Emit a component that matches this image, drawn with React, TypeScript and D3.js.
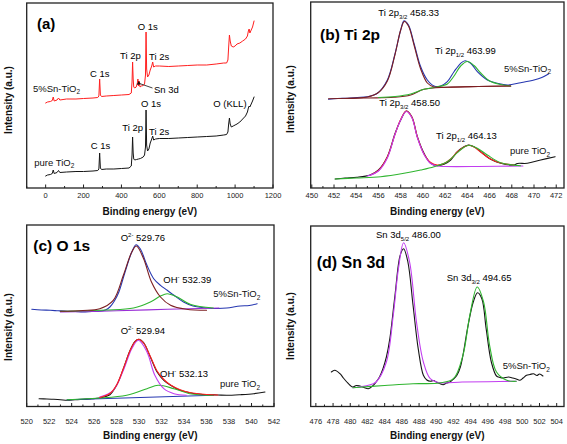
import React from 'react';
import * as d3 from 'd3';

type Pt = [number, number];

// ---------- Panel (a): survey spectra (binding energy eV, intensity a.u.) ----------
const surveySnTiO2: Pt[] = [[0,84],[10,85],[25,85.5],[35,86.5],[40,90],[45,86],[60,87],[68,89],[75,87],[110,88],[160,88],[200,88.5],[250,89],[275,89.5],[281,91],[285,108],[289,92],[295,90.5],[320,91],[360,91.5],[400,92],[440,92.5],[452,94],[456,105],[459,125],[462,108],[465,100],[470,99],[478,100],[484,104],[487,108],[490,101],[494,106],[498,100],[505,101],[515,101.5],[522,103],[527,112],[530,155],[533,118],[538,110],[545,112],[552,117],[560,121],[565,125],[570,120],[580,121],[600,121],[650,120.5],[700,121],[750,121.5],[800,122],[850,122],[900,123],[940,124],[955,124],[962,127],[966,140],[970,152],[974,146],[980,141],[990,140],[1000,141],[1010,143],[1025,144],[1040,146],[1055,148],[1065,151],[1070,156],[1074,158],[1078,154],[1085,157],[1092,160],[1100,166]];
const surveyPureTiO2: Pt[] = [[0,11],[10,12],[25,12.5],[35,13.5],[40,17],[45,13.5],[60,14.5],[68,16.5],[75,14.5],[110,15],[160,15.5],[200,15.5],[250,16],[275,16.5],[281,18],[285,34],[289,19],[295,17.5],[320,18],[360,18],[400,18.5],[440,19],[452,21],[456,32],[459,50],[462,34],[465,28],[470,27],[480,27.5],[490,28],[500,28.5],[515,30],[522,32],[527,40],[530,77],[533,42],[538,36],[545,38],[552,44],[560,48],[565,51],[570,47],[580,48],[600,48.5],[650,48.5],[700,49],[750,49.5],[800,50],[850,50.5],[900,51],[940,52],[955,52.5],[962,55],[966,63],[970,69],[974,63],[980,60],[990,61],[1000,62],[1010,63],[1025,65],[1040,68],[1055,71],[1065,75],[1070,79],[1074,81],[1078,80],[1085,83],[1092,86],[1100,90]];

// ---------- Panel (b): Ti 2p ----------
const ti2pSnData: Pt[] = [[451.5,87.7],[452.3,88.5],[453.2,88.7],[454.1,89.5],[455.0,90.3],[455.9,93.7],[456.8,107],[457.5,133.7],[458.0,157],[458.3,166.3],[458.7,162],[459.2,143.7],[459.8,120.3],[460.4,107],[461.0,101],[461.6,101],[462.2,105.3],[462.8,115.3],[463.4,123.7],[463.8,126.3],[464.3,123.7],[464.9,115.3],[465.8,107],[466.7,103.7],[467.6,102],[468.8,104.3],[470.0,107],[470.7,109.5],[471.3,113]];
const ti2pSnBackground: Pt[] = [[451.5,88.3],[455,89],[457.4,89.7],[458.9,92],[460.1,97.7],[462.2,99.7],[465,100.5],[467.9,101]];
const ti2pSnPeak32: Pt[] = [[453,88.5],[455,90],[456,94.5],[456.8,106],[457.5,133],[458,157],[458.33,165.5],[458.7,161],[459.2,142],[459.8,118],[460.4,104],[461,100],[462,99.8],[465,100.5],[467.9,101]];
const ti2pSnPeak12: Pt[] = [[456,89.5],[457.5,90.5],[458.9,93],[460.1,97.7],[461.2,100],[462.2,103],[462.8,111],[463.4,121],[463.99,125.5],[464.6,121.5],[465.2,114],[466,106],[467,102.5],[467.9,101]];
const ti2pPureData: Pt[] = [[452.1,8],[453,9],[454.05,9.7],[455.25,12],[456,17],[456.8,30.3],[457.5,53.7],[458,67],[458.5,76],[459,70.3],[459.5,50.3],[460.1,33.7],[460.7,23.7],[461.3,21.3],[461.9,22.7],[462.5,27],[463.1,35.3],[463.7,40.3],[464.1,42],[464.6,40.3],[465.2,35.3],[466.1,27.7],[467,23.7],[468.2,22],[468.5,23.5],[469.4,23.7],[470.6,27],[471.9,30.3]];
const ti2pPureEnvelope: Pt[] = [[455.3,12],[456,16.5],[456.8,30],[457.5,53],[458,67.5],[458.5,76],[459,70],[459.5,50],[460.1,33],[460.7,24.5],[461.3,22],[461.9,23.5],[462.5,28],[463.1,35],[463.7,40],[464.13,41.7],[464.6,40],[465.2,35],[466,28.5],[467,24],[468.2,22]];
const ti2pPurePeak32: Pt[] = [[455,11],[456,16],[456.8,29],[457.5,53],[458,67],[458.5,75.5],[459,69.5],[459.5,49.5],[460.1,32.5],[460.7,23.5],[461.3,21],[462,20.5],[465,20.5],[469,21]];
const ti2pPurePeak12: Pt[] = [[452.1,8],[454,9],[456.2,10.3],[458.3,13.7],[459.8,17],[461,20.3],[462.2,25.3],[463.1,34.3],[463.7,39.7],[464.13,41.7],[464.9,38.7],[465.8,32],[467,24.3],[468.8,21.3]];

// ---------- Panel (c): O 1s ----------
const o1sSnData: Pt[] = [[520.45,97.7],[521.3,97],[522.1,96.7],[522.8,96.2],[523.6,95.7],[524.3,95.5],[525,95],[525.8,95.5],[526.5,95.7],[527,97],[527.4,100],[527.8,106],[528.2,115],[528.75,135],[529.35,155],[529.73,162.3],[530.1,158.3],[530.7,141.7],[531.3,128.3],[531.9,121.7],[532.5,116.7],[533.1,111.7],[533.95,105],[534.8,101],[536,99],[537,98.5],[537.8,99],[539,101],[539.8,101.5],[540.5,103.3]];
const o1sSnO2: Pt[] = [[523,95.7],[525,96.5],[526.5,98.3],[527.7,106.7],[528.6,131.7],[529.35,155],[529.76,161],[530.4,148.3],[531.1,125],[531.9,110],[532.8,101.7],[534.2,97.7],[536,96.7]];
const o1sSnOH: Pt[] = [[523,95.7],[527,97],[529.5,99],[531,105],[531.9,111],[532.5,113.3],[533.4,110],[534.6,102.5],[536.6,99]];
const o1sSnBase: Pt[] = [[523,95],[528,96.2],[532.5,97.7],[537.1,99]];
const o1sPureData: Pt[] = [[521.1,8.3],[521.8,8],[522.4,7.7],[523,7.3],[523.6,6.7],[524.3,7.2],[525,7.7],[525.8,8.2],[526.5,9],[527,10.5],[527.4,12.3],[528,21.7],[528.6,38.3],[529.2,56.7],[529.64,65.7],[530,67.7],[530.4,64.3],[531,50],[531.6,35],[532.2,26.7],[532.8,21.7],[533.65,16.7],[534.5,14.3],[535.3,13],[536,12.3],[537,12],[537.8,11.7],[539,12.3],[540.2,13.3],[541.2,15]];
const o1sPureEnvelope: Pt[] = [[526.5,9.5],[527.4,13.5],[528,22],[528.6,38.5],[529.2,56.5],[529.64,65.5],[529.94,67.7],[530.4,64],[531,50.5],[531.6,36],[532.2,27.5],[532.8,22],[533.6,17.5],[534.5,14.5],[536,12.5],[537,12]];
const o1sPureO2: Pt[] = [[526.5,10],[527.7,16.7],[528.6,36.7],[529.35,58.3],[529.94,66.7],[530.7,55],[531.4,31.7],[532.2,18.3],[533.1,13.3],[534.2,11.7]];
const o1sPureOH: Pt[] = [[523.6,7.3],[528.9,11.7],[530.7,18.3],[531.7,21.7],[533.1,18.3],[534.5,13.3],[536.6,11.7]];
const o1sPureBase: Pt[] = [[523.6,7.3],[536.6,11.7]];

// ---------- Panel (d): Sn 3d ----------
const sn3dData: Pt[] = [[477.8,35],[478.2,36.7],[478.8,33.3],[479.2,29],[479.6,25],[480,21.5],[480.3,20],[480.7,21.5],[481.1,21],[481.6,19.5],[482.1,18.3],[482.6,21],[483,25],[483.4,30],[483.8,38.3],[484.2,50],[484.6,68.3],[485.2,111.7],[485.8,151.7],[486.2,158.3],[486.7,145],[487.3,101.7],[487.9,58.3],[488.5,31.7],[488.9,27],[489.3,25.7],[489.7,26.5],[490,25],[490.4,23.5],[490.8,22.3],[491.2,24],[491.6,25],[492,28],[492.4,31.7],[492.8,40],[493.1,51.7],[493.7,81.7],[494.3,105],[494.8,114.3],[495.3,108.3],[495.8,78.3],[496.4,45],[497,31],[497.4,29.5],[497.8,29],[498.4,30],[498.9,29],[499.3,28],[499.7,26.7],[500.1,29],[500.5,31.7],[500.9,32.5],[501.3,33.3],[501.7,31.5],[502,33],[502.4,31]];
const sn3dFit52: Pt[] = [[480.3,19.3],[482,21.5],[483,25],[484.2,45],[485,91.7],[485.6,138.3],[486.2,164.3],[486.9,145],[487.7,85],[488.5,45],[489.3,28.3],[490.4,24.3],[493,25],[496,25.3],[499.3,25.7]];
const sn3dFit32: Pt[] = [[480.3,19.3],[484,21.5],[487.3,23.3],[490.4,24],[492,28.3],[493.1,51.7],[493.9,91.7],[494.76,120],[495.5,105],[496.2,61.7],[497,35],[498.2,26.7],[499.3,25.7]];

// ---------- tick labels ----------
const ticksA = [0, 200, 400, 600, 800, 1000, 1200];
const ticksB = [450, 452, 454, 456, 458, 460, 462, 464, 466, 468, 470, 472];
const ticksC = [520, 522, 524, 526, 528, 530, 532, 534, 536, 538, 540, 542];
const ticksD = [476, 478, 480, 482, 484, 486, 488, 490, 492, 494, 496, 498, 500, 502, 504];

const FONT = "'Liberation Sans', Arial, Helvetica, sans-serif";
const C_BLUE = '#2536b0';
const C_DRED = '#7d1f22';
const C_GREEN = '#2fb52f';
const C_MAG = '#c23ef0';
const C_RED = '#ff1f1f';
const C_BLACK = '#151515';

type Layer = { data: Pt[]; color: string; width?: number; linear?: boolean };
type Box = { l: number; r: number; t: number; b: number; b0: number };

function Panel(props: {
  box: Box; xDomain: [number, number]; majors: number[]; minorStep: number;
  layers: Layer[]; labelY: number; titleY: number; yTitleX: number; yTitleY: number;
  children?: React.ReactNode;
}) {
  const { box, xDomain, majors, minorStep, layers, labelY, titleY, yTitleX, yTitleY } = props;
  const x = d3.scaleLinear().domain(xDomain).range([box.l, box.r]);
  const y = d3.scaleLinear().domain([0, box.b0 - box.t]).range([box.b0, box.t]);
  const minors = d3.range(Math.ceil(xDomain[0] / minorStep) * minorStep, xDomain[1] + 1e-9, minorStep)
    .filter((v) => !majors.some((m) => Math.abs(m - v) < 1e-6));
  return (
    <g>
      {layers.map((ly, i) => {
        const line = d3.line<Pt>().x((d) => x(d[0])).y((d) => y(d[1]))
          .curve(ly.linear ? d3.curveLinear : d3.curveCatmullRom.alpha(0.5));
        return <path key={i} d={line(ly.data) || ''} fill="none" stroke={ly.color}
          strokeWidth={ly.width ?? 1.1} strokeLinejoin="round" strokeLinecap="round" />;
      })}
      <rect x={box.l} y={box.t} width={box.r - box.l} height={box.b - box.t}
        fill="none" stroke="#222" strokeWidth={1.3} />
      {majors.map((m) => (
        <line key={'M' + m} x1={x(m)} x2={x(m)} y1={box.b} y2={box.b - 3.5} stroke="#222" strokeWidth={1} />
      ))}
      {minors.map((m) => (
        <line key={'m' + m} x1={x(m)} x2={x(m)} y1={box.b} y2={box.b - 2} stroke="#222" strokeWidth={1} />
      ))}
      {majors.map((m) => (
        <text key={'t' + m} x={x(m)} y={labelY} textAnchor="middle" fontSize={7.5} fill="#222">{m}</text>
      ))}
      <text x={(box.l + box.r) / 2} y={titleY} textAnchor="middle" fontSize={10} fontWeight="bold" fill="#111">
        Binding energy (eV)
      </text>
      <text transform={`translate(${yTitleX},${yTitleY}) rotate(-90)`} textAnchor="middle"
        dominantBaseline="central" fontSize={10} fontWeight="bold" fill="#111">
        Intensity (a.u.)
      </text>
      {props.children}
    </g>
  );
}

const LF = 9.5; // label font size
function Sub({ children }: { children: React.ReactNode }) {
  return <tspan fontSize={6} dy={2.5}>{children}</tspan>;
}

export default function App() {
  const sample = (label: string, x: number, y: number, fill = '#111') => (
    <text x={x} y={y} fontSize={LF} fill={fill}>
      {label}<tspan fontSize={6.5} dy={2.5}>2</tspan>
    </text>
  );
  return (
    <svg width={567} height={444} style={{ position: 'absolute', left: 0, top: 0, background: '#fff' }}
      fontFamily={FONT}>
      <defs>
        <marker id="arr" viewBox="0 0 10 10" refX="1" refY="5" markerWidth="5" markerHeight="5" orient="auto-start-reverse">
          <path d="M10,0 L0,5 L10,10 z" fill="#111" />
        </marker>
      </defs>
      {/* (a) */}
      <Panel box={{ l: 26.7, r: 273, t: 3, b: 188, b0: 187 }} xDomain={[-100, 1200]} majors={ticksA} minorStep={100}
        layers={[
          { data: surveySnTiO2, color: C_RED, width: 1, linear: true },
          { data: surveyPureTiO2, color: C_BLACK, width: 1, linear: true },
        ]}
        labelY={198} titleY={214.5} yTitleX={8.5} yTitleY={100}>
        <text x={37} y={29} fontSize={15} fontWeight="bold">(a)</text>
        <text x={137.7} y={30} fontSize={LF}>O 1s</text>
        <text x={120} y={59} fontSize={LF}>Ti 2p</text>
        <text x={149} y={60} fontSize={LF}>Ti 2s</text>
        <text x={90} y={77} fontSize={LF}>C 1s</text>
        {sample('5%Sn-TiO', 33, 91.5)}
        <text x={154} y={92.5} fontSize={LF}>Sn 3d</text>
        <line x1={152.5} y1={88} x2={141} y2={84} stroke="#111" strokeWidth={0.8} markerEnd="url(#arr)" />
        <text x={141} y={106.5} fontSize={LF}>O 1s</text>
        <text x={213.3} y={107.3} fontSize={LF}>O (KLL)</text>
        <text x={122.3} y={131} fontSize={LF}>Ti 2p</text>
        <text x={149} y={135} fontSize={LF}>Ti 2s</text>
        <text x={90.7} y={149.3} fontSize={LF}>C 1s</text>
        {sample('pure TiO', 34.3, 165.5)}
      </Panel>

      {/* (b) */}
      <Panel box={{ l: 310.7, r: 564, t: 2, b: 188, b0: 187 }} xDomain={[449.9, 472.7]} majors={ticksB} minorStep={1}
        layers={[
          { data: ti2pSnData, color: C_BLUE },
          { data: ti2pSnBackground, color: C_DRED },
          { data: ti2pSnPeak12, color: C_GREEN },
          { data: ti2pSnPeak32, color: C_DRED },
          { data: ti2pPureData, color: C_BLACK },
          { data: ti2pPureEnvelope, color: C_RED },
          { data: ti2pPurePeak32, color: C_MAG },
          { data: ti2pPurePeak12, color: C_GREEN },
        ]}
        labelY={198} titleY={214.5} yTitleX={290} yTitleY={99}>
        <text x={320} y={40} fontSize={15.5} fontWeight="bold">(b) Ti 2p</text>
        <text x={378.3} y={16} fontSize={LF}>Ti 2p<Sub>3/2</Sub><tspan dy={-2.5}> 458.33</tspan></text>
        <text x={435} y={54} fontSize={LF}>Ti 2p<Sub>1/2</Sub><tspan dy={-2.5}> 463.99</tspan></text>
        {sample('5%Sn-TiO', 504, 71.7)}
        <text x={379.3} y={106} fontSize={LF}>Ti 2p<Sub>3/2</Sub><tspan dy={-2.5}> 458.50</tspan></text>
        <text x={436} y={139.3} fontSize={LF}>Ti 2p<Sub>1/2</Sub><tspan dy={-2.5}> 464.13</tspan></text>
        {sample('pure TiO', 510, 154.3)}
      </Panel>

      {/* (c) */}
      <Panel box={{ l: 26.7, r: 274, t: 225, b: 406.5, b0: 407 }} xDomain={[520, 542]} majors={ticksC} minorStep={1}
        layers={[
          { data: o1sSnData, color: C_BLUE },
          { data: o1sSnBase, color: '#9a2fd6' },
          { data: o1sSnOH, color: C_GREEN },
          { data: o1sSnO2, color: C_DRED },
          { data: o1sPureData, color: C_BLACK },
          { data: o1sPureBase, color: C_BLUE },
          { data: o1sPureOH, color: C_GREEN },
          { data: o1sPureO2, color: C_MAG },
          { data: o1sPureEnvelope, color: C_RED },
        ]}
        labelY={423.5} titleY={438.5} yTitleX={8.5} yTitleY={327}>
        <text x={33.3} y={251.3} fontSize={15.5} fontWeight="bold">(c) O 1s</text>
        <text x={120.7} y={241} fontSize={LF}>O<tspan fontSize={6} dy={-4}>2-</tspan><tspan dy={4}> 529.76</tspan></text>
        <text x={163.3} y={282.7} fontSize={LF}>OH<tspan fontSize={6} dy={-4}>-</tspan><tspan dy={4}> 532.39</tspan></text>
        {sample('5%Sn-TiO', 213.3, 297)}
        <text x={120.7} y={333.7} fontSize={LF}>O<tspan fontSize={6} dy={-4}>2-</tspan><tspan dy={4}> 529.94</tspan></text>
        <text x={160} y={377.3} fontSize={LF}>OH<tspan fontSize={6} dy={-4}>-</tspan><tspan dy={4}> 532.13</tspan></text>
        {sample('pure TiO', 220, 387)}
      </Panel>

      {/* (d) */}
      <Panel box={{ l: 310.7, r: 564, t: 226, b: 406.5, b0: 407 }} xDomain={[475.4, 504.85]} majors={ticksD} minorStep={1}
        layers={[
          { data: sn3dData, color: C_BLACK },
          { data: sn3dFit52, color: C_MAG },
          { data: sn3dFit32, color: C_GREEN },
        ]}
        labelY={423.5} titleY={438.5} yTitleX={290} yTitleY={326}>
        <text x={316.7} y={268} fontSize={16} fontWeight="bold">(d) Sn 3d</text>
        <text x={376} y={238} fontSize={LF}>Sn 3d<Sub>5/2</Sub><tspan dy={-2.5}> 486.00</tspan></text>
        <text x={446.7} y={281.3} fontSize={LF}>Sn 3d<Sub>3/2</Sub><tspan dy={-2.5}> 494.65</tspan></text>
        {sample('5%Sn-TiO', 502.7, 369.3)}
      </Panel>
    </svg>
  );
}
